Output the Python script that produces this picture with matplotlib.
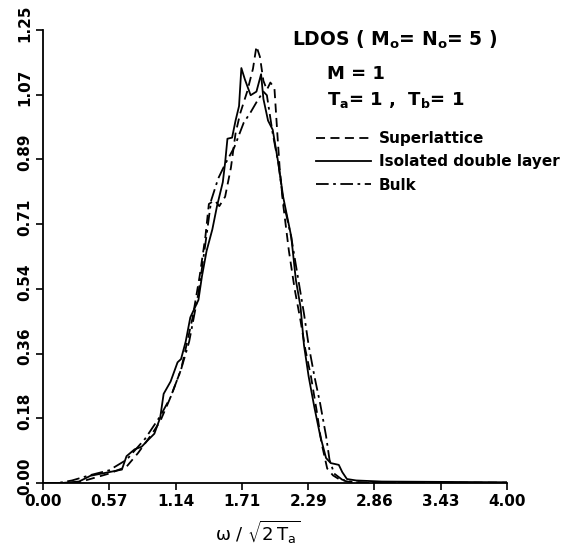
import matplotlib
matplotlib.use("Agg")
import matplotlib.pyplot as plt
import matplotlib.transforms as mtransforms
import numpy as np

# ---- data ----
x_ticks = [0.0, 4/7, 8/7, 12/7, 16/7, 20/7, 24/7, 4.0]
x_tick_labels = ["0.00", "0.57", "1.14", "1.71", "2.29", "2.86", "3.43", "4.00"]
y_ticks = [0.0, 1.25/7, 2.5/7, 3.75/7, 5/7, 6.25/7, 7.5/7, 1.25]
y_tick_labels = ["0.00", "0.18", "0.36", "0.54", "0.71", "0.89", "1.07", "1.25"]

iso_x = [0.00, 0.16, 0.31, 0.41, 0.57, 0.68, 0.72, 0.79, 0.85, 0.91, 0.96, 1.01, 1.04, 1.10,
         1.16, 1.19, 1.23, 1.27, 1.34, 1.37, 1.41, 1.46, 1.50, 1.55, 1.57, 1.59, 1.63, 1.66,
         1.69, 1.71, 1.74, 1.79, 1.84, 1.88, 1.90, 1.94, 1.98, 2.03, 2.07, 2.14, 2.18, 2.22,
         2.25, 2.29, 2.34, 2.39, 2.44, 2.48, 2.55, 2.58, 2.62, 2.70, 2.92, 4.00]
iso_y = [0.000, 0.000, 0.004, 0.020, 0.030, 0.037, 0.074, 0.093, 0.100, 0.120, 0.136, 0.180,
         0.246, 0.280, 0.333, 0.342, 0.390, 0.457, 0.505, 0.570, 0.640, 0.700, 0.764, 0.830,
         0.884, 0.950, 0.953, 1.000, 1.040, 1.145, 1.114, 1.070, 1.080, 1.128, 1.060, 1.000,
         0.975, 0.880, 0.790, 0.680, 0.560, 0.486, 0.380, 0.294, 0.208, 0.130, 0.069, 0.055,
         0.050, 0.030, 0.011, 0.007, 0.004, 0.002]

sup_x = [0.00, 0.20, 0.31, 0.57, 0.72, 0.82, 0.94, 1.01, 1.10, 1.19, 1.29, 1.35, 1.40, 1.43,
         1.48, 1.52, 1.57, 1.62, 1.66, 1.70, 1.76, 1.81, 1.84, 1.87, 1.90, 1.93, 1.96, 1.995,
         2.02, 2.04, 2.07, 2.12, 2.17, 2.22, 2.26, 2.31, 2.36, 2.40, 2.45, 2.50, 2.56, 2.64,
         2.80, 4.00]
sup_y = [0.000, 0.000, 0.002, 0.026, 0.045, 0.083, 0.136, 0.170, 0.237, 0.313, 0.457, 0.570,
         0.680, 0.770, 0.780, 0.764, 0.790, 0.870, 0.965, 1.020, 1.080, 1.143, 1.205, 1.176,
         1.110, 1.085, 1.105, 1.090, 0.965, 0.870, 0.770, 0.640, 0.534, 0.448, 0.371, 0.294,
         0.198, 0.112, 0.040, 0.021, 0.009, 0.003, 0.001, 0.001]

bulk_x = [0.00, 0.13, 0.25, 0.41, 0.57, 0.72, 0.88, 1.01, 1.10, 1.19, 1.26, 1.34, 1.40, 1.45,
          1.51, 1.57, 1.65, 1.73, 1.79, 1.85, 1.90, 1.93, 1.98, 2.03, 2.07, 2.14, 2.20, 2.25,
          2.29, 2.34, 2.39, 2.44, 2.47, 2.51, 2.58, 2.67, 2.80, 4.00]
bulk_y = [0.000, 0.000, 0.007, 0.022, 0.035, 0.064, 0.122, 0.184, 0.237, 0.313, 0.390, 0.524,
          0.660, 0.780, 0.840, 0.880, 0.927, 0.994, 1.023, 1.056, 1.080, 1.070, 0.965, 0.880,
          0.780, 0.678, 0.563, 0.467, 0.380, 0.294, 0.218, 0.130, 0.064, 0.026, 0.009, 0.003,
          0.000, 0.000]

# ---- figure ----
plt.rcParams["mathtext.fontset"] = "dejavusans"
W, H = 571, 546
fig = plt.figure(figsize=(W / 100, H / 100), dpi=100)
ax = fig.add_axes([43 / W, 1 - 483 / H, (507 - 43) / W, (483 - 30) / H])

lw = 1.3
ax.plot(sup_x, sup_y, color="black", lw=lw, ls=(0, (5, 3)), label="Superlattice")
ax.plot(iso_x, iso_y, color="black", lw=lw, ls="-", label="Isolated double layer")
ax.plot(bulk_x, bulk_y, color="black", lw=lw, ls=(0, (7, 2.5, 1.5, 2.5)), label="Bulk")

ax.set_xlim(0, 4.0)
ax.set_ylim(0, 1.25)
ax.spines["top"].set_visible(False)
ax.spines["right"].set_visible(False)
for s in ("left", "bottom"):
    ax.spines[s].set_linewidth(1.3)

fw = "bold"
ax.set_xticks(x_ticks)
ax.set_xticklabels(x_tick_labels, fontsize=11, fontweight=fw)
ax.set_yticks(y_ticks)
ax.set_yticklabels(y_tick_labels, fontsize=11, fontweight=fw, rotation=90, va="center")
ax.tick_params(direction="out", length=5, width=1.2, pad=3)
# y tick labels sit slightly above their ticks in the reference
off = mtransforms.ScaledTranslation(0, 7 / 100, fig.dpi_scale_trans)
for lab in ax.get_yticklabels():
    lab.set_transform(lab.get_transform() + off)

ax.set_xlabel(r"ω / $\sqrt{2\,\mathregular{T_a}}$", fontsize=13)
ax.xaxis.set_label_coords((258 - 43) / (507 - 43), -0.078)

fig.text(292 / W, 1 - 46 / H, r"LDOS ( M$_\mathregular{o}$= N$_\mathregular{o}$= 5 )",
         fontsize=13.5, fontweight=fw, ha="left", va="baseline")
fig.text(327 / W, 1 - 79 / H, "M = 1", fontsize=13, fontweight=fw, ha="left", va="baseline")
fig.text(327 / W, 1 - 105 / H, r"T$_\mathregular{a}$= 1 ,  T$_\mathregular{b}$= 1",
         fontsize=13, fontweight=fw, ha="left", va="baseline")

leg = ax.legend(loc="upper left", bbox_to_anchor=(316 / W, 1 - 131 / H),
                bbox_transform=fig.transFigure, frameon=False,
                prop={"size": 11, "weight": fw}, handlelength=3.6,
                handletextpad=0.5, labelspacing=0.55, borderpad=0, borderaxespad=0)

fig.savefig("out.png", dpi=100)
